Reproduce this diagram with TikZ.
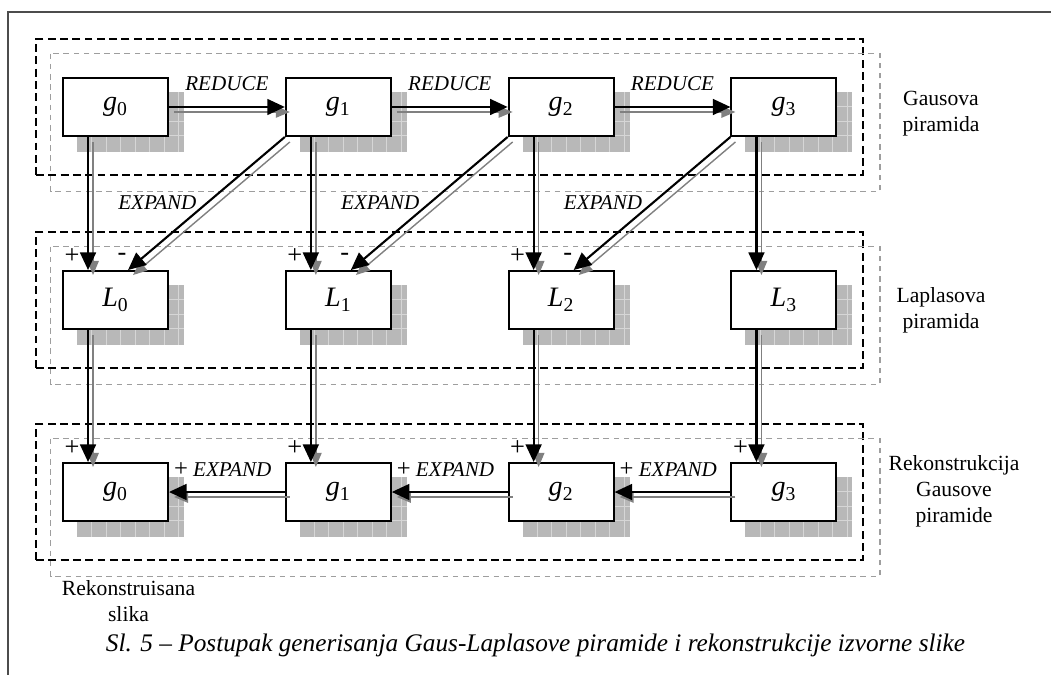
\documentclass[tikz,border=0pt]{standalone}
\usepackage{fontspec}
\setmainfont{Liberation Serif}
\usepackage{tikz}
\usetikzlibrary{positioning,arrows.meta,fit,backgrounds}
\usepackage{xcolor}

\definecolor{senkasiva}{gray}{0.72}
\definecolor{mrezasiva}{gray}{0.84}
\definecolor{strelasiva}{gray}{0.5}
\definecolor{crtasiva}{gray}{0.62}
\definecolor{okvirsiva}{gray}{0.3}

% oznaka bloka: slovo u kurzivu sa indeksom
\newcommand{\pir}[2]{\textit{#1}\textsubscript{#2}}

\tikzset{
  blok/.style={draw,line width=1.1pt,fill=white,minimum width=2.1cm,minimum height=1.16cm,inner sep=0pt,font=\fontsize{16}{18}\selectfont},
  grupa/.style={draw,dashed,line width=1.1pt,dash pattern=on 4.5pt off 2.5pt,inner xsep=0.52cm,inner ysep=0.76cm},
  grupasenka/.style={draw=crtasiva,line width=0.9pt,dash pattern=on 3.2pt off 2.6pt},
  pijl/.style={line width=1.2pt,-{Triangle[length=10pt,width=9pt]}},
  senka/.style={draw=strelasiva,line width=0.8pt,-{Triangle[length=8pt,width=6.5pt,fill=strelasiva]}},
  oznaka/.style={inner sep=0pt,font=\itshape\fontsize{12}{14}\selectfont},
  znak/.style={inner sep=0pt,font=\fontsize{15}{17}\selectfont},
  opis/.style={align=center,inner sep=0pt,font=\fontsize{12.3}{14.8}\selectfont}
}

\begin{document}
\begin{tikzpicture}[x=0.02cm,y=-0.02cm]
\useasboundingbox (0,0) rectangle (1051,675);
\draw[okvirsiva,line width=0.6pt] (8,675) |- (1051,12);

% tri reda blokova
\foreach \i in {0,...,3}{
  \node[blok] (g\i) at (115.5+222.8*\i,107) {\pir{g}{\i}};
  \node[blok] (L\i) at (115.5+222.8*\i,300) {\pir{L}{\i}};
  \node[blok] (R\i) at (115.5+222.8*\i,492) {\pir{g}{\i}};
}

% senke blokova sa mrezom
\begin{scope}[on background layer]
\foreach \n in {g0,g1,g2,g3,L0,L1,L2,L3,R0,R1,R2,R3}{
  \fill[senkasiva] ([shift={(15,15)}]\n.north west) rectangle ([shift={(15,15)}]\n.south east);
  \foreach \k in {1,...,7}
    \draw[mrezasiva,line width=0.5pt] ([shift={(15+14.5*\k,15)}]\n.north west) -- ([shift={(15+14.5*\k,15)}]\n.south west);
  \foreach \k in {1,2,3}
    \draw[mrezasiva,line width=0.5pt] ([shift={(15,15+14.5*\k)}]\n.north west) -- ([shift={(15,15+14.5*\k)}]\n.north east);
}
\end{scope}

% isprekidani okviri piramida
\foreach \r/\a/\b in {G/g0/g3,P/L0/L3,K/R0/R3}{
  \node[grupa,fit=(\a)(\b)] (\r) {};
  \draw[grupasenka] ([shift={(15.5,15.5)}]\r.north west) rectangle ([shift={(15.5,15.5)}]\r.south east);
}

% REDUCE, EXPAND i rekonstrukcija
\foreach \i/\j in {0/1,1/2,2/3}{
  \draw[senka] ([shift={(5,5)}]g\i.east) -- ([shift={(5,5)}]g\j.west);
  \draw[pijl] (g\i.east) -- node[oznaka,midway,above=8.5pt]{REDUCE} (g\j.west);
  \draw[senka] ([shift={(5,5)}]g\j.south west) -- ([shift={(71,5)}]L\i.north west);
  \draw[pijl] (g\j.south west) -- node[oznaka,pos=0.49,left=6pt]{EXPAND} ([shift={(66,0)}]L\i.north west);
  \draw[senka] ([shift={(5,5)}]R\j.west) -- ([shift={(5,5)}]R\i.east);
  \draw[pijl] (R\j.west) -- (R\i.east) node[oznaka,anchor=base west,xshift=2.3pt,yshift=9pt]{{\upshape\fontsize{14}{16}\selectfont +} EXPAND};
}
\foreach \i in {0,...,3}{
  \draw[senka] ([shift={(31,5)}]g\i.south west) -- ([shift={(31,5)}]L\i.north west);
  \draw[pijl] ([shift={(26,0)}]g\i.south west) -- ([shift={(26,0)}]L\i.north west);
  \draw[senka] ([shift={(31,5)}]L\i.south west) -- ([shift={(31,5)}]R\i.north west);
  \draw[pijl] ([shift={(26,0)}]L\i.south west) -- ([shift={(26,0)}]R\i.north west);
  \node[znak] (plusR\i) at ([shift={(10,-14)}]R\i.north west) {+};
}
\foreach \i in {0,1,2}{
  \node[znak] (plusL\i) at ([shift={(10,-14)}]L\i.north west) {+};
  \node[znak] (minusL\i) at ([shift={(60,-13)}]L\i.north west) {-};
}

% natpisi
\node[opis] (gausova) at (941,113.5) {Gausova\\piramida};
\node[opis] (laplasova) at (941,310) {Laplasova\\piramida};
\node[opis] (rekonstrukcija) at (954,491.5) {Rekonstrukcija\\Gausove\\piramide};
\node[opis] (slika) at (128.5,601.5) {Rekonstruisana\\slika};
\node[inner sep=0pt,font=\itshape\fontsize{14.4}{17}\selectfont] (naslov) at (535.5,645)
  {Sl. 5 -- Postupak generisanja Gaus-Laplasove piramide i rekonstrukcije izvorne slike};
\end{tikzpicture}
\end{document}
